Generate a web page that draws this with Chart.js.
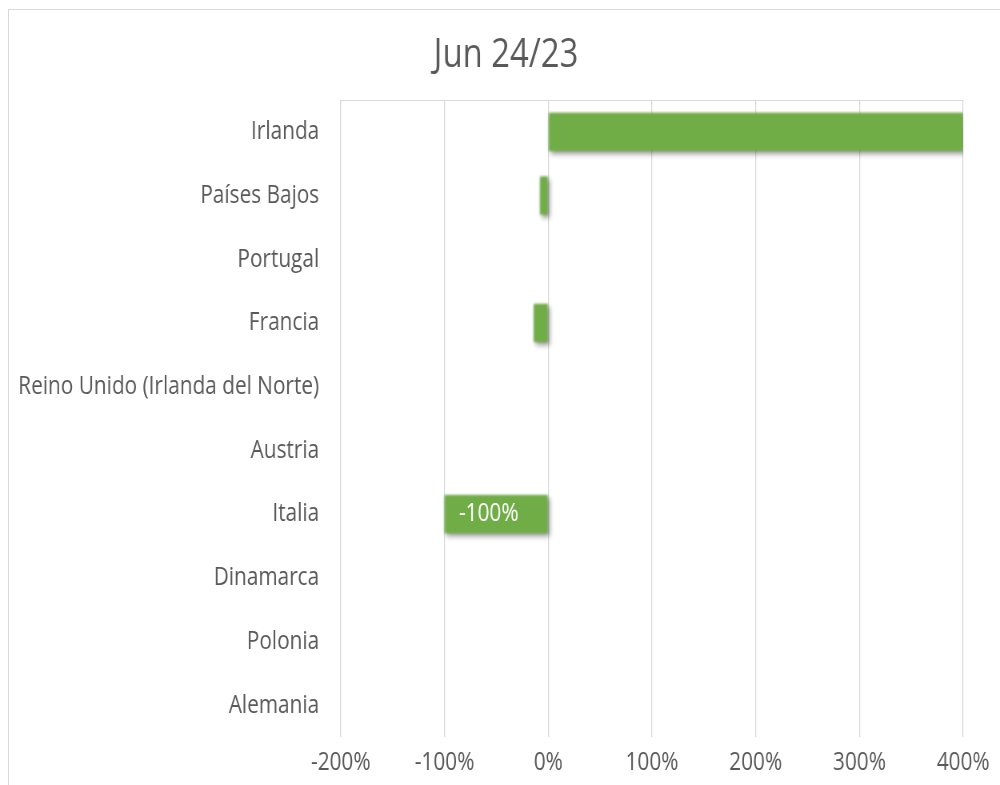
<!DOCTYPE html>
<html lang="es">
<head>
<meta charset="utf-8">
<title>Jun 24/23</title>
<script src="https://cdn.jsdelivr.net/npm/chart.js@4.4.1/dist/chart.umd.min.js"></script>
<style>
    body { margin: 0; background: #ffffff; overflow: hidden; }
    .marco {
        position: absolute; left: 8px; top: 9px; width: 1100px; height: 900px;
        border-top: 1px solid #d9d9d9; border-left: 1px solid #d9d9d9;
    }
    /* el gráfico se dibuja más ancho y se estrecha en horizontal */
    .contenedor {
        position: absolute; left: 0; top: 0; width: 1265px; height: 785px;
        transform: scaleX(0.8); transform-origin: 0 0;
    }
</style>
</head>
<body>
<div class="marco"></div>
<div class="contenedor">
    <canvas id="graficoBarras" width="1265" height="785"></canvas>
</div>
<script>
const titulo = 'Jun 24/23';
const paises = ['Irlanda', 'Países Bajos', 'Portugal', 'Francia', 'Reino Unido (Irlanda del Norte)',
    'Austria', 'Italia', 'Dinamarca', 'Polonia', 'Alemania'];
const variacion = [400, -8, 0, -14, 0, 0, -100, 0, 0, 0];
const paisesConEtiqueta = ['Italia'];
const marcasEje = [-200, -100, 0, 100, 200, 300, 400];

const colorTexto = '#595959';
const colorRejilla = '#d9d9d9';
const fuente = "'Open Sans', 'Noto Sans', sans-serif";

// título centrado en todo el lienzo, no sólo sobre el área de trazado
const tituloGrafico = {
    id: 'tituloGrafico',
    afterDraw(chart) {
        const ctx = chart.ctx;
        ctx.save();
        ctx.font = "41px " + fuente;
        ctx.fillStyle = colorTexto;
        ctx.textAlign = 'center';
        ctx.textBaseline = 'middle';
        ctx.fillText(titulo, chart.width / 2, 55);
        ctx.restore();
    }
};

// sombra y bordes suaves de las barras, como el efecto de Excel
const sombraBarras = {
    id: 'sombraBarras',
    beforeDatasetDraw(chart) {
        const ctx = chart.ctx;
        ctx.save();
        ctx.filter = 'blur(1.2px)';
        ctx.shadowColor = 'rgba(0, 0, 0, 0.4)';
        ctx.shadowBlur = 5;
        ctx.shadowOffsetX = 2.5;
        ctx.shadowOffsetY = 3;
    },
    afterDatasetDraw(chart) {
        chart.ctx.restore();
    }
};

// etiqueta blanca dentro del extremo de la barra
const etiquetasBarras = {
    id: 'etiquetasBarras',
    afterDatasetsDraw(chart) {
        const ctx = chart.ctx;
        const meta = chart.getDatasetMeta(0);
        ctx.save();
        ctx.font = "26px " + fuente;
        ctx.fillStyle = '#ffffff';
        ctx.textBaseline = 'middle';
        meta.data.forEach((barra, i) => {
            if (!paisesConEtiqueta.includes(paises[i])) return;
            const valor = variacion[i];
            const texto = valor + '%';
            if (valor < 0) {
                ctx.textAlign = 'left';
                ctx.fillText(texto, barra.x + 18, barra.y);
            } else {
                ctx.textAlign = 'right';
                ctx.fillText(texto, barra.x - 18, barra.y);
            }
        });
        ctx.restore();
    }
};

// línea superior del área de trazado
const bordeSuperior = {
    id: 'bordeSuperior',
    beforeDatasetsDraw(chart) {
        const { ctx, chartArea } = chart;
        ctx.save();
        ctx.strokeStyle = colorRejilla;
        ctx.lineWidth = 1;
        ctx.beginPath();
        ctx.moveTo(chartArea.left, chartArea.top + 0.5);
        ctx.lineTo(chartArea.right, chartArea.top + 0.5);
        ctx.stroke();
        ctx.restore();
    }
};

const ctxBarras = document.getElementById('graficoBarras');

new Chart(ctxBarras, {
    type: 'bar',
    data: {
        labels: paises,
        datasets: [{
            data: variacion,
            backgroundColor: '#70ad47',
            borderWidth: 0,
            categoryPercentage: 1,
            barPercentage: 0.6
        }]
    },
    plugins: [tituloGrafico, bordeSuperior, sombraBarras, etiquetasBarras],
    options: {
        indexAxis: 'y',
        responsive: false,
        animation: false,
        layout: {
            padding: { left: 0, right: 61, top: 100, bottom: 0 }
        },
        plugins: {
            legend: { display: false },
            tooltip: { enabled: false },
            title: { display: false }
        },
        scales: {
            x: {
                min: -200,
                max: 400,
                afterBuildTicks(escala) {
                    escala.ticks = marcasEje.map(v => ({ value: v }));
                },
                afterFit(escala) {
                    escala.height = 48;
                },
                grid: { color: colorRejilla, lineWidth: 1.25, drawTicks: false },
                border: { display: false },
                ticks: {
                    color: colorTexto,
                    padding: 10,
                    maxRotation: 0,
                    font: { family: fuente, size: 26 },
                    callback: v => v + '%'
                }
            },
            y: {
                afterFit(escala) {
                    escala.width = 426;
                },
                grid: { display: false, drawTicks: false },
                border: { display: false },
                ticks: {
                    color: colorTexto,
                    padding: 27,
                    font: { family: fuente, size: 26 }
                }
            }
        }
    }
});
</script>
</body>
</html>
